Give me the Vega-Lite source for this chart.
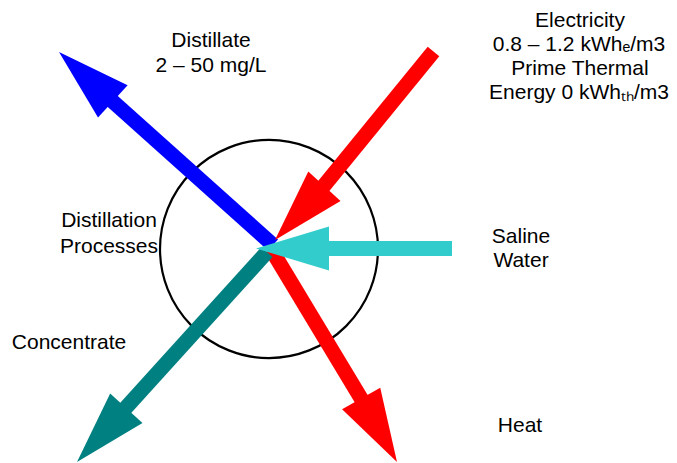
{
  "$schema": "https://vega.github.io/schema/vega-lite/v6.json",
  "width": 677,
  "height": 463,
  "autosize": {"type": "none"},
  "padding": 0,
  "background": "white",
  "config": {"view": {"stroke": null}},
  "datasets": {
    "circle": [{"x": 269, "y": 249}],
    "shafts": [
      {"flow": "Distillate", "x": 273, "y": 245, "x2": 110, "y2": 99},
      {"flow": "Heat", "x": 271, "y": 249, "x2": 365, "y2": 405},
      {"flow": "Concentrate", "x": 267, "y": 252, "x2": 122, "y2": 412},
      {"flow": "Electricity", "x": 433.5, "y": 51.5, "x2": 318, "y2": 193},
      {"flow": "Saline Water", "x": 452, "y": 248.5, "x2": 322, "y2": 248.5}
    ],
    "heads": [
      {"flow": "Distillate", "x": 59, "y": 52, "heading": 312.5},
      {"flow": "Heat", "x": 397, "y": 462, "heading": 150.6},
      {"flow": "Concentrate", "x": 77, "y": 462, "heading": 222.5},
      {"flow": "Electricity", "x": 275, "y": 240, "heading": 222.6},
      {"flow": "Saline Water", "x": 256, "y": 248.5, "heading": 270}
    ],
    "labels": [
      {"t": "Electricity", "x": 580, "y": 27},
      {"t": "0.8 – 1.2 kWhₑ/m3", "x": 579, "y": 51},
      {"t": "Prime Thermal", "x": 580, "y": 75},
      {"t": "Energy 0 kWhₜₕ/m3", "x": 579, "y": 99},
      {"t": "Distillate", "x": 211, "y": 47},
      {"t": "2 – 50 mg/L", "x": 211, "y": 72},
      {"t": "Distillation", "x": 109, "y": 227},
      {"t": "Processes", "x": 109, "y": 253},
      {"t": "Saline", "x": 521, "y": 243},
      {"t": "Water", "x": 521, "y": 267},
      {"t": "Concentrate", "x": 69, "y": 349},
      {"t": "Heat", "x": 520, "y": 432}
    ]
  },
  "encoding": {
    "x": {"field": "x", "type": "quantitative", "axis": null, "scale": {"domain": [0, 677], "nice": false, "zero": false}},
    "y": {"field": "y", "type": "quantitative", "axis": null, "scale": {"domain": [0, 463], "nice": false, "zero": false, "reverse": true}}
  },
  "layer": [
    {
      "data": {"name": "circle"},
      "mark": {"type": "point", "shape": "circle", "size": 47524, "filled": false, "stroke": "black", "strokeWidth": 2.2, "opacity": 1}
    },
    {
      "data": {"name": "shafts"},
      "mark": {"type": "rule", "strokeWidth": 15, "strokeCap": "butt", "opacity": 1},
      "encoding": {
        "x2": {"field": "x2"},
        "y2": {"field": "y2"},
        "color": {"field": "flow", "type": "nominal", "legend": null,
          "scale": {"domain": ["Distillate", "Heat", "Concentrate", "Electricity", "Saline Water"], "range": ["#0000FF", "#FF0000", "#008080", "#FF0000", "#33CCCC"]}}
      }
    },
    {
      "data": {"name": "heads"},
      "mark": {"type": "point", "shape": "M0,0L-0.6,2L0.6,2Z", "size": 5329, "filled": true, "opacity": 1, "strokeWidth": 0},
      "encoding": {
        "angle": {"field": "heading", "type": "quantitative", "scale": null},
        "color": {"field": "flow", "type": "nominal", "legend": null,
          "scale": {"domain": ["Distillate", "Heat", "Concentrate", "Electricity", "Saline Water"], "range": ["#0000FF", "#FF0000", "#008080", "#FF0000", "#33CCCC"]}}
      }
    },
    {
      "data": {"name": "labels"},
      "mark": {"type": "text", "font": "Liberation Sans", "fontSize": 21, "align": "center", "baseline": "alphabetic", "color": "black"},
      "encoding": {"text": {"field": "t"}}
    }
  ]
}
